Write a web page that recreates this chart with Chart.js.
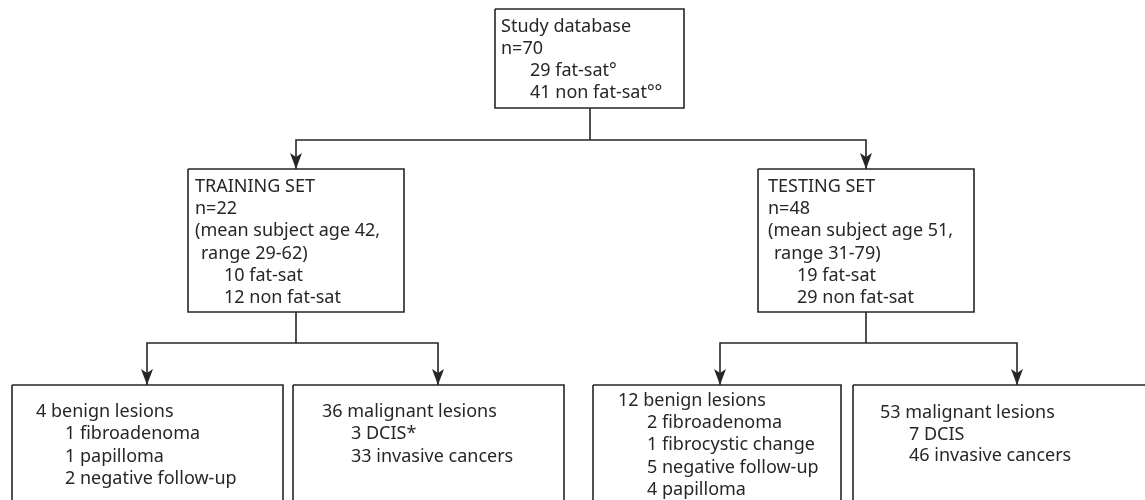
<!DOCTYPE html>
<html>
<head>
<meta charset="utf-8">
<script src="https://cdn.jsdelivr.net/npm/chart.js@4.4.0/dist/chart.umd.min.js"></script>
<style>
  body { margin: 0; background: #fff; }
  #wrap { width: 1145px; height: 500px; }
</style>
</head>
<body>
<div id="wrap"><canvas id="flow_elem"></canvas></div>
<script>

// box texts (level 0 = flush, 1 = one space, 2 = indented)
const studyText = ['Study database', 'n=70', '29 fat-sat°', '41 non fat-sat°°'];
const studyLevel = [0, 0, 2, 2];

const trainingText = ['TRAINING SET', 'n=22', '(mean subject age 42,', 'range 29-62)', '10 fat-sat', '12 non fat-sat'];
const testingText = ['TESTING SET', 'n=48', '(mean subject age 51,', 'range 31-79)', '19 fat-sat', '29 non fat-sat'];
const setLevel = [0, 0, 0, 1, 2, 2];

const trainBenignText = ['4 benign lesions', '1 fibroadenoma', '1 papilloma', '2 negative follow-up'];
const trainMalignText = ['36 malignant lesions', '3 DCIS*', '33 invasive cancers'];
const testBenignText = ['12 benign lesions', '2 fibroadenoma', '1 fibrocystic change', '5 negative follow-up', '4 papilloma'];
const testMalignText = ['53 malignant lesions', '7 DCIS', '46 invasive cancers'];
const lesionLevel = [0, 2, 2, 2, 2];

// layout of the boxes, in page units (x: 0..1145, y: 0..500 downwards)
const boxes = [
  { x0: 495, y0: 9,   x1: 684,  y1: 108, tx: 501, base: 32,  gap: 22.1, lines: studyText,       levels: studyLevel },
  { x0: 188, y0: 169, x1: 404,  y1: 312, tx: 195, base: 192, gap: 22.2, lines: trainingText,    levels: setLevel },
  { x0: 758, y0: 169, x1: 974,  y1: 312, tx: 768, base: 192, gap: 22.2, lines: testingText,     levels: setLevel },
  { x0: 12,  y0: 385, x1: 283,  y1: 530, tx: 36,  base: 417, gap: 22.3, lines: trainBenignText, levels: lesionLevel },
  { x0: 293, y0: 385, x1: 564,  y1: 530, tx: 322, base: 417, gap: 22.3, lines: trainMalignText, levels: lesionLevel },
  { x0: 593, y0: 385, x1: 841,  y1: 530, tx: 618, base: 406, gap: 22.2, lines: testBenignText,  levels: lesionLevel },
  { x0: 853, y0: 385, x1: 1181, y1: 530, tx: 880, base: 418, gap: 21.5, lines: testMalignText,  levels: lesionLevel }
];
const indents = [0, 6, 29];

// connectors: [ [x, y], ... ]  ; arrow = true puts an arrowhead at the last point
const links = [
  { pts: [[590, 108], [590, 140]] },
  { pts: [[590, 140], [296, 140], [296, 169]], arrow: true },
  { pts: [[590, 140], [866, 140], [866, 169]], arrow: true },
  { pts: [[296, 312], [296, 343]] },
  { pts: [[296, 343], [147, 343], [147, 385]], arrow: true },
  { pts: [[296, 343], [438, 343], [438, 385]], arrow: true },
  { pts: [[866, 312], [866, 343]] },
  { pts: [[866, 343], [720, 343], [720, 385]], arrow: true },
  { pts: [[866, 343], [1017, 343], [1017, 385]], arrow: true }
];

const ink = '#262626';

const datasets = [];

boxes.forEach((b) => {
  datasets.push({
    data: [
      { x: b.x0, y: b.y0 }, { x: b.x1, y: b.y0 }, { x: b.x1, y: b.y1 },
      { x: b.x0, y: b.y1 }, { x: b.x0, y: b.y0 }
    ],
    showLine: true,
    borderColor: ink,
    borderWidth: 1.6,
    pointRadius: 0,
    tension: 0
  });
});

links.forEach((l) => {
  datasets.push({
    data: l.pts.map(p => ({ x: p[0], y: p[1] })),
    showLine: true,
    borderColor: ink,
    borderWidth: 1.6,
    pointRadius: 0,
    tension: 0
  });
});

// arrowheads and box texts
const flowPlugin = {
  id: 'flowText',
  afterDatasetsDraw(chart) {
    const ctx = chart.ctx;
    const xs = chart.scales.x;
    const ys = chart.scales.y;

    ctx.save();
    ctx.fillStyle = ink;
    links.forEach((l) => {
      if (!l.arrow) return;
      const end = l.pts[l.pts.length - 1];
      const px = xs.getPixelForValue(end[0]);
      const py = ys.getPixelForValue(end[1]);
      ctx.beginPath();
      ctx.moveTo(px, py);
      ctx.lineTo(px - 6, py - 16);
      ctx.lineTo(px, py - 12);
      ctx.lineTo(px + 6, py - 16);
      ctx.closePath();
      ctx.fill();
    });

    ctx.font = '18px "Noto Sans"';
    ctx.textBaseline = 'alphabetic';
    ctx.textAlign = 'left';
    boxes.forEach((b) => {
      b.lines.forEach((t, i) => {
        const px = xs.getPixelForValue(b.tx + indents[b.levels[i]]);
        const py = ys.getPixelForValue(b.base + i * b.gap);
        ctx.fillText(t, px, py);
      });
    });
    ctx.restore();
  }
};

const canvas = document.getElementById('flow_elem');
const chart = new Chart(canvas.getContext('2d'), {
  type: 'scatter',
  data: { datasets },
  options: {
    responsive: true,
    maintainAspectRatio: false,
    animation: false,
    layout: { padding: 0 },
    plugins: { legend: { display: false }, tooltip: { enabled: false } },
    scales: {
      x: { type: 'linear', min: 0, max: 1145, display: false },
      y: { type: 'linear', min: 0, max: 500, reverse: true, display: false }
    }
  },
  plugins: [flowPlugin]
});
</script>
</body>
</html>
